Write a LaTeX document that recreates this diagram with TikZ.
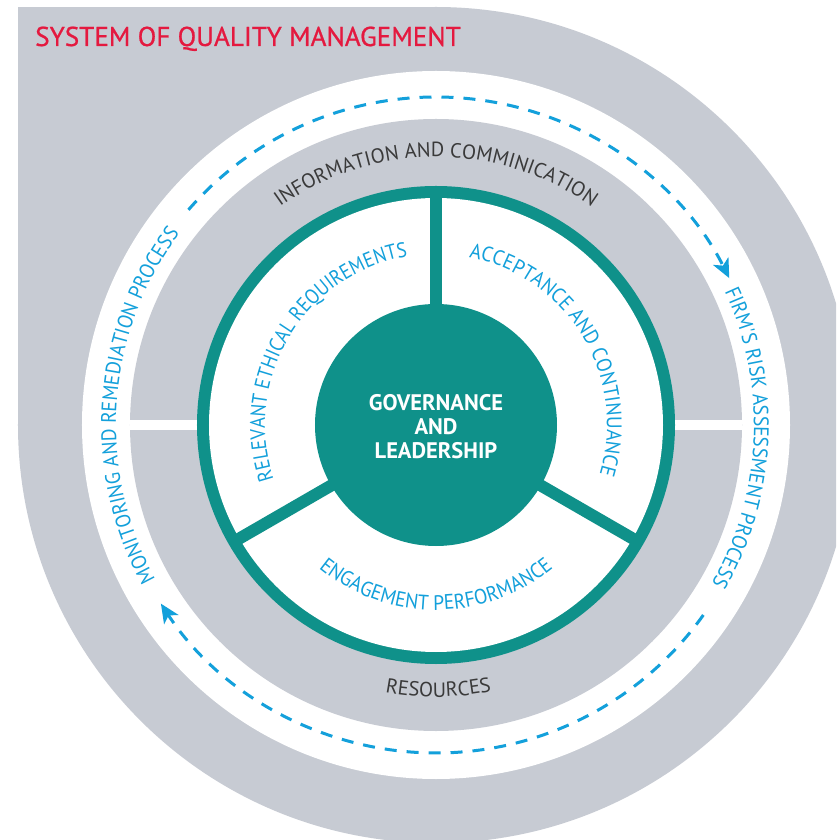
\documentclass[tikz,border=0pt]{standalone}
\usepackage{fontspec}
\setmainfont{PT Sans}
\newfontfamily\bluefam[FakeStretch=0.93]{PT Sans}
\newfontfamily\bluefamnarrow[FakeStretch=0.89]{PT Sans}
\newfontfamily\titlefam[FakeBold=0.8]{PT Sans}
\usetikzlibrary{decorations.text,arrows.meta}
\definecolor{qgray}{HTML}{C7CBD3}
\definecolor{qteal}{HTML}{0F918A}
\definecolor{qblue}{HTML}{13A0DB}
\definecolor{qred}{HTML}{E4193F}
\definecolor{qdark}{HTML}{3A3A3A}
\newcommand\graytxt{\fontsize{20.5}{20.5}\selectfont\color{qdark}}
\newcommand\bluetxt{\bluefam\fontsize{21}{21}\selectfont\color{qblue}}
\newcommand\bluenarrowtxt{\bluefamnarrow\fontsize{21}{21}\selectfont\color{qblue}}
\tikzset{
  cwtext/.style n args={4}{decorate, decoration={text along path, text align=center,
      text={|#4|#3}}, insert path={(#1+90:#2) arc[start angle=#1+90, end angle=#1-90, radius=#2]}},
  ccwtext/.style n args={4}{decorate, decoration={text along path, text align=center,
      text={|#4|#3}}, insert path={(#1-90:#2) arc[start angle=#1-90, end angle=#1+90, radius=#2]}},
  flowarrow/.style={draw=qblue, line width=3pt, dash pattern=on 12pt off 10pt,
      -{Stealth[length=19pt, width=17pt, inset=5pt]}},
  divider/.style={draw=qteal, line width=12pt}
}
\begin{document}
\begin{tikzpicture}[x=1pt,y=1pt]
\useasboundingbox (-436,-415) rectangle (400,425);
\clip (-436,-415) rectangle (400,425);
\fill[white] (-436,-415) rectangle (400,425);
% outer gray shape
\fill[qgray] (0,0) circle[radius=418];
\fill[qgray] (-418,0) rectangle (0,417.5);
\fill[white] (0,0) circle[radius=354];
\fill[qgray] (0,0) circle[radius=306];
\fill[white] (-306,-5) rectangle (306,5);
% teal ring
\fill[qteal] (0,0) circle[radius=239];
\fill[white] (0,0) circle[radius=227];
\foreach \a in {90,210,330} \draw[divider] (0,0) -- (\a:233);
\node[circle, fill=qteal, minimum size=242pt, inner sep=0pt] (gov) at (0,0) {};
\node[text=white, align=center, font=\bfseries\fontsize{22.5}{24}\selectfont] (govtext) at (0,-1.5) {GOVERNANCE\\AND\\LEADERSHIP};
% title
\node[anchor=base west, inner sep=0pt, text=qred, font=\titlefam\fontsize{27.2}{27}\selectfont] (title) at (-401,379) {SYSTEM OF QUALITY MANAGEMENT};
% curved texts
\path[cwtext={90}{268}{INFORMATION AND COMMINICATION}{\graytxt}];
\path[ccwtext={270.5}{272}{RESOURCES}{\graytxt}];
\path[cwtext={31}{171}{ACCEPTANCE AND CONTINUANCE}{\bluetxt}];
\path[cwtext={149}{171}{RELEVANT ETHICAL REQUIREMENTS}{\bluenarrowtxt}];
\path[ccwtext={270}{185}{ENGAGEMENT PERFORMANCE}{\bluetxt}];
\path[cwtext={-2.5}{318}{FIRM'S RISK ASSESSMENT PROCESS}{\bluetxt}];
\path[cwtext={176}{320}{MONITORING AND REMEDIATION PROCESS}{\bluetxt}];
% dashed arrows
\draw[flowarrow] (139:328) arc[start angle=139, end angle=26.6, radius=328];
\draw[flowarrow] (-35.4:328) arc[start angle=-35.4, end angle=-147, radius=328];
\end{tikzpicture}
\end{document}
